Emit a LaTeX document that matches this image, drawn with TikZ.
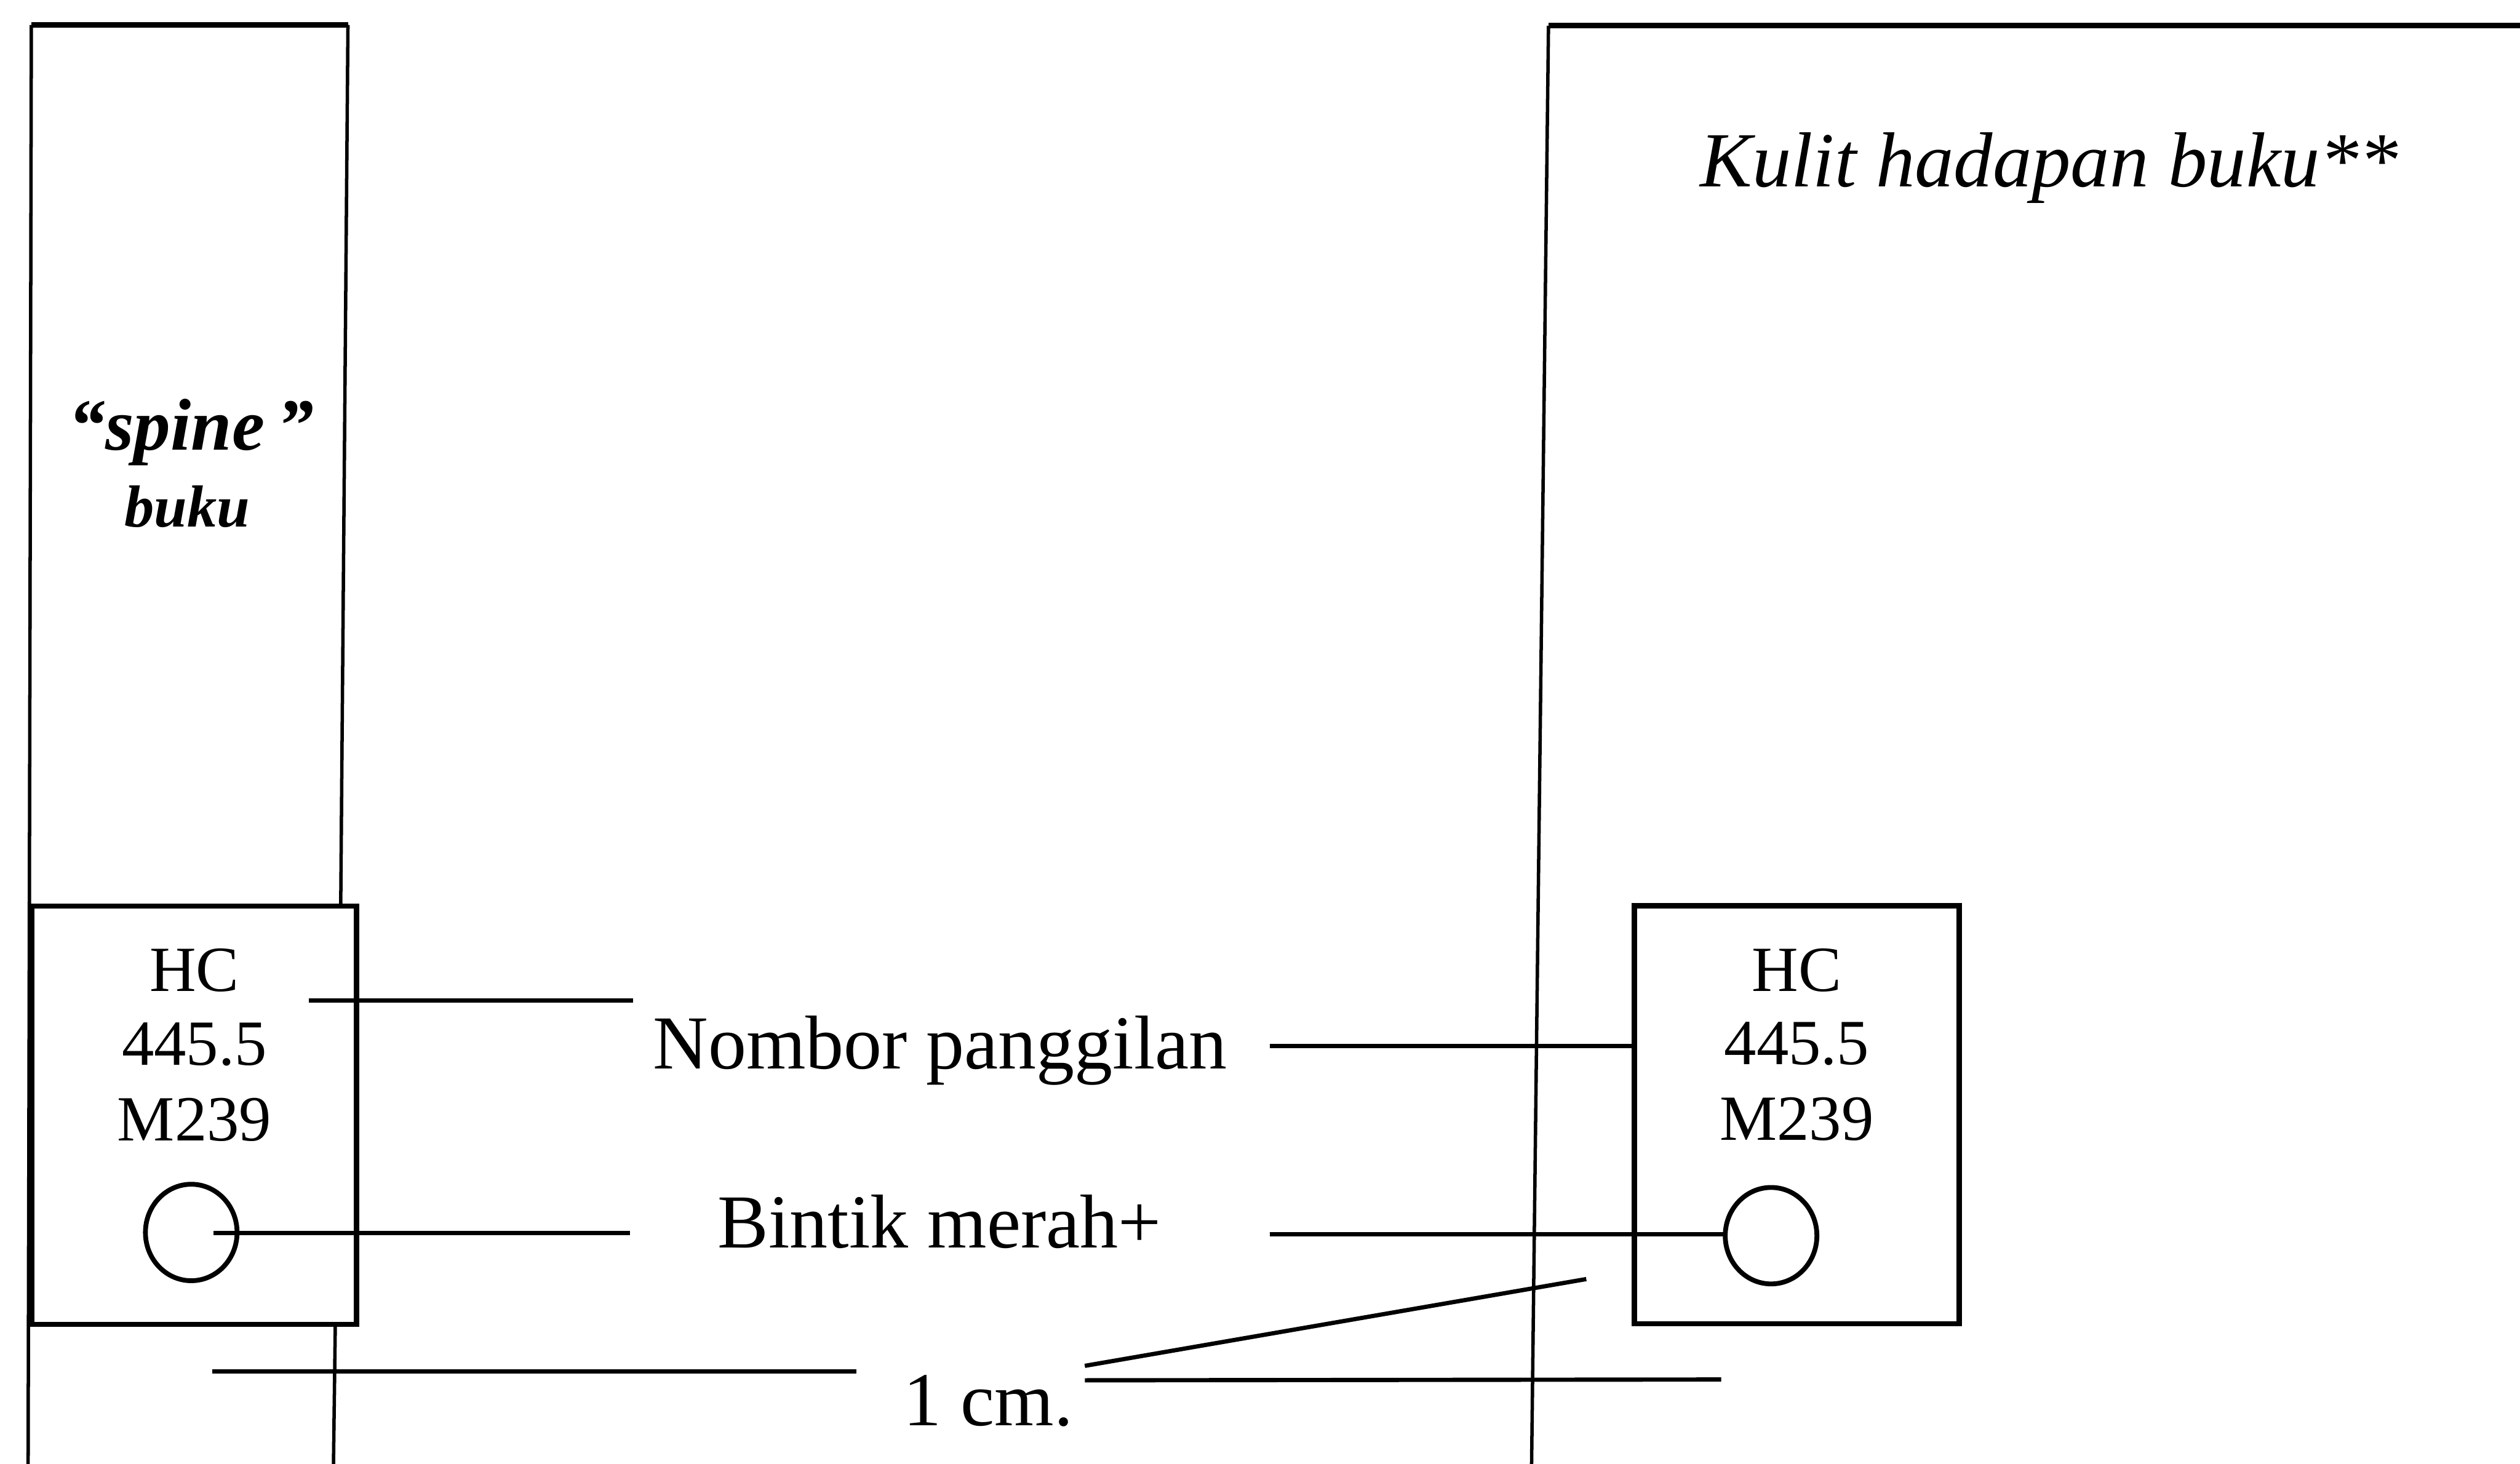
\documentclass[tikz,border=0pt]{standalone}
\usepackage{fontspec}
\setmainfont{Liberation Serif}
\usetikzlibrary{shapes.geometric}
\begin{document}
\begin{tikzpicture}[x=0.01cm,y=-0.01cm,
  edgethin/.style={line width=0.6pt},
  edgetop/.style={line width=1.0pt},
  labelbox/.style={draw,line width=0.9pt,fill=white,rectangle,inner sep=0pt,minimum width=2.02cm,minimum height=2.6cm},
  leader/.style={line width=0.75pt},
  lbl/.style={inner sep=0pt,anchor=base,font=\fontsize{13.5}{16}\selectfont},
  callno/.style={inner sep=0pt,anchor=base,font=\fontsize{11.4}{13}\selectfont},
  reddot/.style={draw,ellipse,line width=0.85pt,inner sep=0pt,minimum width=0.57cm,minimum height=0.60cm}
]
\useasboundingbox (0,0) rectangle (1568,911);
% spine of the book
\draw[edgethin] (17.5,911) -- (19.5,15.5);
\draw[edgetop] (19.5,15.5) -- (216.5,15.5);
\draw[edgethin] (216.5,15.5) -- (212,564) -- (207.5,911);
\node[inner sep=0pt,anchor=base,font=\fontsize{13}{15}\selectfont\bfseries\itshape] (spine) at (119,280) {``spine\,''};
\node[inner sep=0pt,anchor=base,font=\fontsize{10.5}{12}\selectfont\bfseries\itshape] (bukuS) at (116.5,328) {buku};
% front cover
\draw[edgethin] (953,911) -- (963.5,16);
\draw[edgetop] (963.5,16) -- (1568,16);
\node[lbl,font=\fontsize{13.8}{16}\selectfont\itshape] (cover) at (1275,116) {Kulit hadapan buku**};
% label boxes
\node[labelbox] (lbox) at (120.75,694) {};
\node[labelbox] (rbox) at (1118,693.75) {};
\node[callno] (lhc) at (121,617) {HC};
\node[callno] (lnum) at (121,663) {445.5};
\node[callno] (lcut) at (121,710) {M239};
\node[callno] (rhc) at (1118,617) {HC};
\node[callno] (rnum) at (1118,662.5) {445.5};
\node[callno] (rcut) at (1118,709.5) {M239};
\node[reddot] (ldot) at (119,767) {};
\node[reddot] (rdot) at (1102,769) {};
% middle labels
\node[lbl] (nombor) at (585,665) {Nombor panggilan};
\node[lbl] (bintik) at (584.5,776.5) {Bintik merah+};
\node[lbl] (onecm) at (615,887) {1 cm.};
% leader end points
\coordinate (a1) at (192,622.5);
\coordinate (a2) at (394,622.5);
\coordinate (b1) at (133,767.5);
\coordinate (b2) at (392,767.5);
\coordinate (c1) at (132,853.5);
\coordinate (c2) at (533,853.5);
\coordinate (d1) at (790,651);
\coordinate (d2) at (1017,651);
\coordinate (e1) at (790,768);
\coordinate (e2) at (1073.5,768);
\coordinate (f1) at (675,850);
\coordinate (f2) at (987,796);
\coordinate (g1) at (675,859);
\coordinate (g2) at (1071,858.5);
% leaders
\draw[leader] (a1) -- (a2);
\draw[leader] (b1) -- (b2);
\draw[leader] (c1) -- (c2);
\draw[leader] (d1) -- (d2);
\draw[leader] (e1) -- (e2);
\draw[leader] (f1) -- (f2);
\draw[leader] (g1) -- (g2);
\end{tikzpicture}
\end{document}
